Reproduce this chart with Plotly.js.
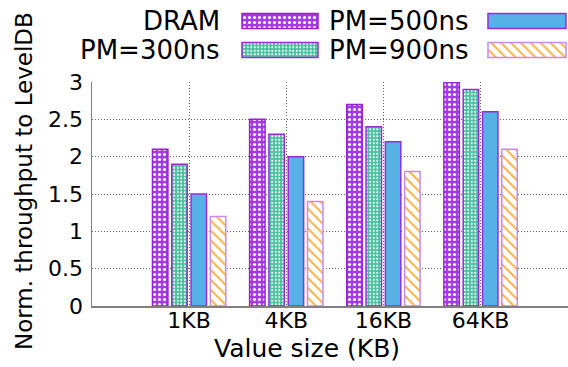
<!DOCTYPE html>
<html><head><meta charset="utf-8">
<script src="https://cdn.plot.ly/plotly-3.0.1.min.js"></script>
<style>html,body{margin:0;padding:0;background:#fff}#chart{width:568px;height:367px}</style>
</head><body><div id="chart"></div>
<script>
// ---- data ----
const categories = ['1KB', '4KB', '16KB', '64KB'];
const seriesNames = ['DRAM', 'PM=300ns', 'PM=500ns', 'PM=900ns'];
const dram  = [2.1, 2.5, 2.7, 3.0];
const pm300 = [1.9, 2.3, 2.4, 2.9];
const pm500 = [1.5, 2.0, 2.2, 2.6];
const pm900 = [1.2, 1.4, 1.8, 2.1];
const yTicks = [0, 0.5, 1, 1.5, 2, 2.5, 3];
const yTickLabels = ['0', '0.5', '1', '1.5', '2', '2.5', '3'];
const xTitle = 'Value size (KB)';
const yTitle = 'Norm. throughput to LevelDB';

// ---- layout geometry (pixels) ----
const W = 568, H = 367, ML = 92, MB = 61, PH = H - MB;
const plotTopPx = 82;
const FONT = 'DejaVu Sans';
const px2x = p => (p - ML) / (W - ML);
const px2y = p => (PH - p) / PH;

const styles = [
  {pattern: {shape: '.', fgcolor: '#ffffff', bgcolor: '#a638e8', size: 5, solidity: 0.3, fillmode: 'replace'}, line: '#9a1fd8'},
  {pattern: {shape: '.', fgcolor: '#ffffff', bgcolor: '#45bf9c', size: 3.5, solidity: 0.28, fillmode: 'replace'}, line: '#9a2ad8'},
  {pattern: null, color: '#56b1e6', line: '#9a2ad8'},
  {pattern: {shape: '\\', fgcolor: '#f3b444', bgcolor: '#ffffff', size: 7, solidity: 0.28, fillmode: 'replace'}, line: '#c98aec'}
];
const seriesValues = [dram, pm300, pm500, pm900];

function markerFor(s) {
  const m = {line: {color: s.line, width: 1.5}};
  if (s.pattern) { m.color = s.pattern.bgcolor; m.pattern = s.pattern; }
  else m.color = s.color;
  return m;
}

const traces = seriesValues.map((vals, i) => ({
  type: 'bar', x: categories, y: vals, name: seriesNames[i],
  marker: markerFor(styles[i]), showlegend: false, hoverinfo: 'skip'
}));

// custom gnuplot-style legend (text then swatch)
const legendPos = [
  {tx: 222, cy: 21, sx0: 242, sx1: 318},
  {tx: 222, cy: 50, sx0: 242, sx1: 318},
  {tx: 471, cy: 21, sx0: 488, sx1: 566},
  {tx: 471, cy: 50, sx0: 488, sx1: 566}
];
const swH = 15;
seriesNames.forEach((nm, i) => {
  const p = legendPos[i];
  traces.push({
    type: 'bar', xaxis: 'x2', yaxis: 'y2', offsetgroup: 'leg',
    x: [(p.sx0 + p.sx1) / 2], width: [p.sx1 - p.sx0], base: [p.cy - swH / 2], y: [swH],
    marker: markerFor(styles[i]), showlegend: false, hoverinfo: 'skip'
  });
});

const annotations = seriesNames.map((nm, i) => ({
  text: nm, xref: 'paper', yref: 'paper', x: px2x(legendPos[i].tx), y: px2y(legendPos[i].cy),
  xanchor: 'right', yanchor: 'middle', showarrow: false,
  font: {family: FONT, size: 26, color: '#000'}
}));
annotations.push({
  text: xTitle, xref: 'paper', yref: 'paper', x: px2x(307), y: px2y(348),
  xanchor: 'center', yanchor: 'middle', showarrow: false,
  font: {family: FONT, size: 25, color: '#000'}
});
annotations.push({
  text: yTitle, xref: 'paper', yref: 'paper', x: px2x(24), y: px2y(181), textangle: -90,
  xanchor: 'center', yanchor: 'middle', showarrow: false,
  font: {family: FONT, size: 23, color: '#000'}
});

const gridStyle = {showgrid: true, gridcolor: '#666', griddash: '1px,2px', gridwidth: 1};

const layout = {
  width: W, height: H,
  margin: {l: ML, r: 0, t: 0, b: MB, pad: 0},
  paper_bgcolor: '#fff', plot_bgcolor: 'rgba(0,0,0,0)',
  barmode: 'group', bargap: 0.205, bargroupgap: 0.2,
  font: {family: FONT, size: 22, color: '#000'},
  xaxis: Object.assign({
    type: 'category', range: [-1, 3.9], domain: [0, 1],
    showline: true, linecolor: '#808080', linewidth: 2, ticks: '', ticklabelstandoff: -6,
    tickfont: {family: FONT, size: 22, color: '#000'}, zeroline: false, fixedrange: true
  }, gridStyle),
  yaxis: Object.assign({
    range: [0, 3], domain: [0, px2y(plotTopPx)], tickvals: yTicks, ticktext: yTickLabels,
    showline: true, linecolor: '#808080', linewidth: 1.5, ticks: '', ticklabelstandoff: 3,
    tickfont: {family: FONT, size: 22, color: '#000'}, zeroline: false, fixedrange: true
  }, gridStyle),
  xaxis2: {domain: [0, 1], range: [ML, W], anchor: 'y2', visible: false, fixedrange: true},
  yaxis2: {domain: [0, 1], range: [PH, 0], anchor: 'x2', visible: false, fixedrange: true},
  annotations: annotations,
  showlegend: false
};

Plotly.newPlot('chart', traces, layout, {staticPlot: true, displayModeBar: false});
</script>
</body></html>
